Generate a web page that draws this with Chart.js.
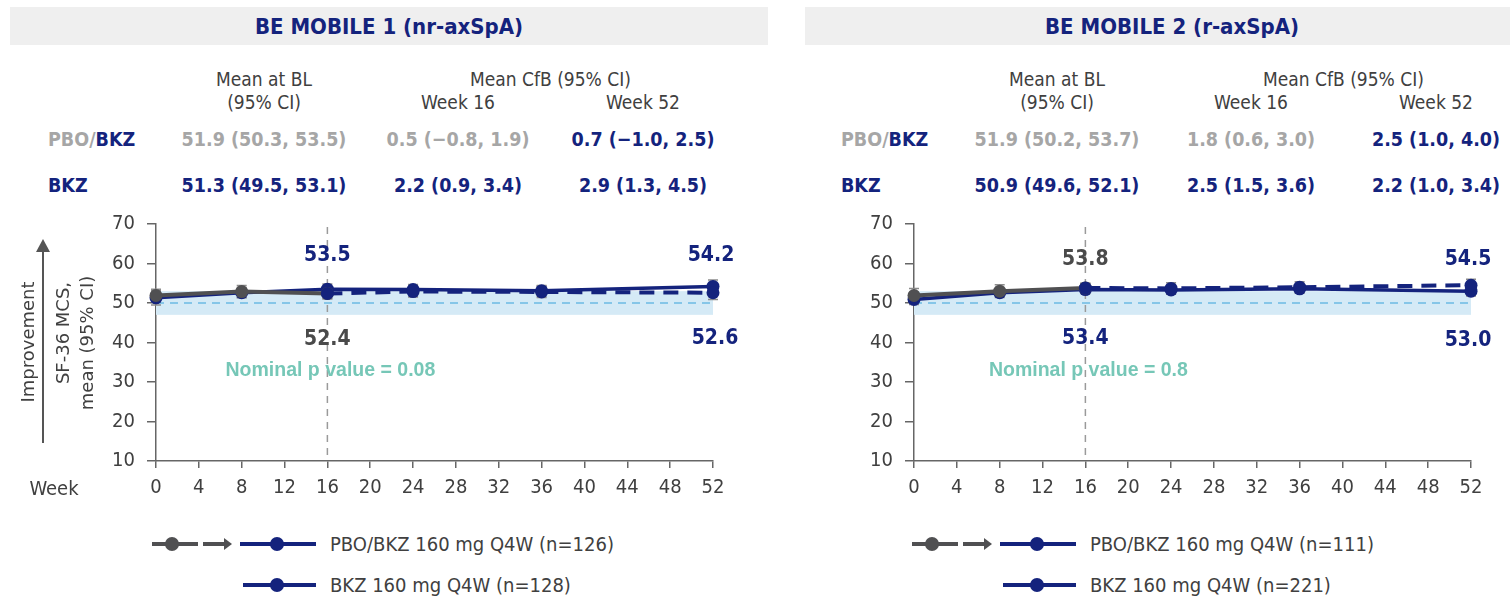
<!DOCTYPE html>
<html>
<head>
<meta charset="utf-8">
<script src="https://cdn.jsdelivr.net/npm/chart.js@4/dist/chart.umd.min.js"></script>
<style>
body { margin: 0; width: 1510px; height: 597px; background: #fff; position: relative; overflow: hidden;
       font-family: "DejaVu Sans Condensed", "DejaVu Sans", sans-serif; font-stretch: condensed; }
.abs { position: absolute; white-space: nowrap; }
.mid { transform: translate(-50%, -50%); }
.band { position: absolute; top: 7px; height: 38px; background: #efefef; }
.title { font-weight: bold; color: #14237d; font-size: 22px; }
.hd { color: #404040; font-size: 19px; }
.val { font-weight: bold; font-size: 19.5px; }
.grey { color: #a6a6a6; }
.navy { color: #14237d; }
.ytitle { color: #404040; font-size: 18px; font-family: "DejaVu Sans", sans-serif; font-stretch: normal;
          transform: translate(-50%, -50%) rotate(-90deg); }
.leg { color: #404040; font-size: 20px; transform: translateY(-50%); }
canvas { position: absolute; }
</style>
</head>
<body>
<canvas id="c1" width="760" height="310" style="left:0;top:200px"></canvas>
<canvas id="c2" width="760" height="310" style="left:758px;top:200px"></canvas>

<script>
const NAVY = "#14237d";
const GREY_LINE = "#505052";
const FONT = "'DejaVu Sans Condensed', 'DejaVu Sans', sans-serif";

// ---- data ----
const titles = ["BE MOBILE 1 (nr-axSpA)", "BE MOBILE 2 (r-axSpA)"];
const nPbo = [126, 111];
const nBkz = [128, 221];

// header table: BL mean (95% CI), CfB wk16, CfB wk52
const m1PboRow = ["51.9 (50.3, 53.5)", "0.5 (\u22120.8, 1.9)", "0.7 (\u22121.0, 2.5)"];
const m1BkzRow = ["51.3 (49.5, 53.1)", "2.2 (0.9, 3.4)", "2.9 (1.3, 4.5)"];
const m2PboRow = ["51.9 (50.2, 53.7)", "1.8 (0.6, 3.0)", "2.5 (1.0, 4.0)"];
const m2BkzRow = ["50.9 (49.6, 52.1)", "2.5 (1.5, 3.6)", "2.2 (1.0, 3.4)"];

// BE MOBILE 1
const m1PboWeeks = [0, 8, 16];
const m1PboMean = [51.9, 52.9, 52.4];
const m1PboLo = [50.3, 51.4, 51.1];
const m1PboHi = [53.5, 54.4, 53.8];
const m1SwWeeks = [16, 24, 36, 52];
const m1SwMean = [52.4, 52.9, 52.8, 52.6];
const m1SwLo = [51.1, 51.5, 51.4, 50.9];
const m1SwHi = [53.8, 54.3, 54.3, 54.4];
const m1BkzWeeks = [0, 8, 16, 24, 36, 52];
const m1BkzMean = [51.3, 52.6, 53.5, 53.4, 53.1, 54.2];
const m1BkzLo = [49.5, 51.3, 52.3, 52.1, 51.8, 52.6];
const m1BkzHi = [53.1, 53.9, 54.8, 54.7, 54.4, 55.8];

// BE MOBILE 2
const m2PboWeeks = [0, 8, 16];
const m2PboMean = [51.9, 53.0, 53.8];
const m2PboLo = [50.2, 51.4, 52.6];
const m2PboHi = [53.7, 54.6, 55.0];
const m2SwWeeks = [16, 24, 36, 52];
const m2SwMean = [53.8, 53.7, 54.0, 54.5];
const m2SwLo = [52.6, 52.2, 52.6, 53.0];
const m2SwHi = [55.0, 55.1, 55.4, 56.0];
const m2BkzWeeks = [0, 8, 16, 24, 36, 52];
const m2BkzMean = [50.9, 52.6, 53.4, 53.3, 53.6, 53.0];
const m2BkzLo = [49.6, 51.7, 52.4, 52.3, 52.6, 51.8];
const m2BkzHi = [52.1, 53.6, 54.5, 54.4, 54.6, 54.2];

const pValues = ["0.08", "0.8"];
const refBand = [47, 53];
const refLine = 50;

// ---- html text ----
function addText(html, x, y, cls) {
    const d = document.createElement("div");
    d.className = "abs " + cls;
    d.style.left = x + "px";
    d.style.top = y + "px";
    d.innerHTML = html;
    document.body.appendChild(d);
    return d;
}

function addBox(x, y, w, h, color, radius) {
    const d = document.createElement("div");
    d.className = "abs";
    d.style.left = x + "px";
    d.style.top = y + "px";
    d.style.width = w + "px";
    d.style.height = h + "px";
    d.style.background = color;
    if (radius) d.style.borderRadius = radius;
    document.body.appendChild(d);
    return d;
}

function header(dx, bandX, bandW, titleX, title, cols, pboRow, bkzRow) {
    const b = document.createElement("div");
    b.className = "band";
    b.style.left = bandX + "px";
    b.style.width = bandW + "px";
    document.body.appendChild(b);
    addText(title, titleX, 26, "mid title");

    addText("Mean at BL", cols[0], 79, "mid hd");
    addText("(95% CI)", cols[0], 102, "mid hd");
    addText("Mean CfB (95% CI)", (cols[1] + cols[2]) / 2, 79, "mid hd");
    addText("Week 16", cols[1], 102, "mid hd");
    addText("Week 52", cols[2], 102, "mid hd");

    addText('<span class="grey">PBO/</span><span class="navy">BKZ</span>', dx + 48, 139, "val").style.transform = "translateY(-50%)";
    addText('<span class="navy">BKZ</span>', dx + 48, 185, "val").style.transform = "translateY(-50%)";

    addText(pboRow[0], cols[0], 139, "mid val grey");
    addText(pboRow[1], cols[1], 139, "mid val grey");
    addText(pboRow[2], cols[2], 139, "mid val navy");
    bkzRow.forEach((t, i) => addText(t, cols[i], 185, "mid val navy"));
}

header(0, 10, 758, 389, titles[0], [264, 458, 643], m1PboRow, m1BkzRow);
header(793, 805, 705, 1172, titles[1], [1057, 1251, 1436], m2PboRow, m2BkzRow);

// y axis title + arrow
addText("Improvement", 27, 342, "ytitle");
addText("SF-36 MCS,", 62, 333, "ytitle");
addText("mean (95% CI)", 86, 343, "ytitle");
addBox(42, 250, 1.5, 193, "#555");
const ah = addBox(36, 239, 0, 0, "transparent");
ah.style.borderLeft = "7px solid transparent";
ah.style.borderRight = "7px solid transparent";
ah.style.borderBottom = "13px solid #555";
ah.style.background = "none";
addText("Week", 54, 488, "mid hd").style.fontSize = "20px";

// legend
function legend(dx, n1, n2) {
    const y1 = 544, y2 = 585;
    addBox(dx + 152, y1 - 2, 46, 4, GREY_LINE);
    addBox(dx + 165, y1 - 7, 14, 14, GREY_LINE, "50%");
    addBox(dx + 203, y1 - 2, 22, 4, GREY_LINE);
    const a = addBox(dx + 224, y1 - 6, 0, 0, "none");
    a.style.borderTop = "6px solid transparent";
    a.style.borderBottom = "6px solid transparent";
    a.style.borderLeft = "8px solid " + GREY_LINE;
    addBox(dx + 240, y1 - 2, 76, 4, NAVY);
    addBox(dx + 270, y1 - 7, 14, 14, NAVY, "50%");
    addText("PBO/BKZ 160 mg Q4W (n=" + n1 + ")", dx + 330, y1, "leg");

    addBox(dx + 243, y2 - 2, 73, 4, NAVY);
    addBox(dx + 270, y2 - 7, 14, 14, NAVY, "50%");
    addText("BKZ 160 mg Q4W (n=" + n2 + ")", dx + 330, y2, "leg");
}
legend(0, nPbo[0], nBkz[0]);
legend(760, nPbo[1], nBkz[1]);

// ---- chart ----
function pts(xs, ys) {
    return xs.map((x, i) => ({ x: x, y: ys[i] }));
}

const extrasPlugin = {
    id: "extras",
    beforeDatasetsDraw(chart, args, opts) {
        const ctx = chart.ctx;
        const xs = chart.scales.x, ys = chart.scales.y;
        const area = chart.chartArea;
        ctx.save();
        // reference band
        ctx.fillStyle = "#d5eaf6";
        const yTop = ys.getPixelForValue(refBand[1]);
        const yBot = ys.getPixelForValue(refBand[0]);
        ctx.fillRect(xs.getPixelForValue(0), yTop, xs.getPixelForValue(52) - xs.getPixelForValue(0), yBot - yTop);
        // ref line at 50
        ctx.strokeStyle = "#86c6e8";
        ctx.lineWidth = 2;
        ctx.setLineDash([8, 6]);
        ctx.beginPath();
        const yr = ys.getPixelForValue(refLine);
        ctx.moveTo(xs.getPixelForValue(0), yr);
        ctx.lineTo(xs.getPixelForValue(52), yr);
        ctx.stroke();
        // week 16 line
        ctx.strokeStyle = "#9a9a9a";
        ctx.lineWidth = 1.5;
        ctx.setLineDash([7, 6]);
        const xv = xs.getPixelForValue(16);
        ctx.beginPath();
        ctx.moveTo(xv, area.top + 3);
        ctx.lineTo(xv, area.bottom);
        ctx.stroke();
        ctx.setLineDash([]);
        // error bars
        ctx.strokeStyle = "#8c8c8c";
        ctx.lineWidth = 1.5;
        chart.data.datasets.forEach(ds => {
            ds.data.forEach((p, i) => {
                const x = xs.getPixelForValue(p.x);
                const lo = ys.getPixelForValue(ds.lo[i]);
                const hi = ys.getPixelForValue(ds.hi[i]);
                ctx.beginPath();
                ctx.moveTo(x, lo); ctx.lineTo(x, hi);
                ctx.moveTo(x - 5, lo); ctx.lineTo(x + 5, lo);
                ctx.moveTo(x - 5, hi); ctx.lineTo(x + 5, hi);
                ctx.stroke();
            });
        });
        ctx.restore();
    },
    afterDatasetsDraw(chart, args, opts) {
        const ctx = chart.ctx;
        const xs = chart.scales.x, ys = chart.scales.y;
        ctx.save();
        ctx.textAlign = "center";
        ctx.textBaseline = "middle";
        ctx.font = "bold 21px " + FONT;
        opts.labels.forEach(l => {
            ctx.fillStyle = l.color;
            ctx.fillText(l.text, xs.getPixelForValue(l.week) + (l.dx || 0), ys.getPixelForValue(l.at));
        });
        ctx.font = "bold 19.5px 'Liberation Sans', Arial, sans-serif";
        ctx.fillStyle = "#76c7b7";
        ctx.fillText("Nominal p value = " + opts.p, xs.getPixelForValue(16) + 3, ys.getPixelForValue(33));
        ctx.restore();
    }
};

function makeChart(id, pbo, sw, bkz, labels, p) {
    const datasets = [
        { data: pts(sw.w, sw.m), lo: sw.lo, hi: sw.hi, borderColor: NAVY, backgroundColor: NAVY,
          borderWidth: 4, borderDash: [15, 9], pointRadius: 6.5, pointBorderWidth: 0, order: 1 },
        { data: pts(pbo.w, pbo.m), lo: pbo.lo, hi: pbo.hi, borderColor: GREY_LINE, backgroundColor: GREY_LINE,
          borderWidth: 4, pointRadius: 6.5, pointBorderWidth: 0, order: 2 },
        { data: pts(bkz.w, bkz.m), lo: bkz.lo, hi: bkz.hi, borderColor: NAVY, backgroundColor: NAVY,
          borderWidth: 3.5, pointRadius: 6.5, pointBorderWidth: 0, order: 3 }
    ];
    const tickFont = { size: 20, family: FONT };
    return new Chart(document.getElementById(id), {
        type: "line",
        data: { datasets: datasets },
        options: {
            responsive: false,
            animation: false,
            clip: false,
            layout: { padding: { top: 21, right: 47, left: 0, bottom: 0 } },
            plugins: {
                legend: { display: false },
                tooltip: { enabled: false },
                extras: { labels: labels, p: p }
            },
            datasets: { line: { clip: false, tension: 0 } },
            scales: {
                x: {
                    type: "linear", min: 0, max: 52,
                    ticks: { stepSize: 4, color: "#404040", font: tickFont, padding: 8 },
                    grid: { drawOnChartArea: false, drawTicks: true, tickLength: 7, color: "#666", lineWidth: 1.5 },
                    border: { color: "#666", width: 1.5 },
                    afterFit: s => { s.height = 49; }
                },
                y: {
                    min: 10, max: 70,
                    ticks: { stepSize: 10, color: "#404040", font: tickFont, padding: 12 },
                    grid: { drawOnChartArea: false, drawTicks: true, tickLength: 9, color: "#666", lineWidth: 1.5 },
                    border: { color: "#666", width: 1.5 },
                    afterFit: s => { s.width = 156; }
                }
            }
        },
        plugins: [extrasPlugin]
    });
}

makeChart("c1",
    { w: m1PboWeeks, m: m1PboMean, lo: m1PboLo, hi: m1PboHi },
    { w: m1SwWeeks, m: m1SwMean, lo: m1SwLo, hi: m1SwHi },
    { w: m1BkzWeeks, m: m1BkzMean, lo: m1BkzLo, hi: m1BkzHi },
    [
        { text: "53.5", week: 16, at: 62, color: NAVY },
        { text: "52.4", week: 16, at: 40.8, color: "#4a4a4a" },
        { text: "54.2", week: 52, at: 62, color: NAVY, dx: -2 },
        { text: "52.6", week: 52, at: 41, color: NAVY, dx: 2 }
    ], pValues[0]);

makeChart("c2",
    { w: m2PboWeeks, m: m2PboMean, lo: m2PboLo, hi: m2PboHi },
    { w: m2SwWeeks, m: m2SwMean, lo: m2SwLo, hi: m2SwHi },
    { w: m2BkzWeeks, m: m2BkzMean, lo: m2BkzLo, hi: m2BkzHi },
    [
        { text: "53.8", week: 16, at: 61, color: "#4a4a4a" },
        { text: "53.4", week: 16, at: 41, color: NAVY },
        { text: "54.5", week: 52, at: 61, color: NAVY, dx: -3 },
        { text: "53.0", week: 52, at: 40.5, color: NAVY, dx: -3 }
    ], pValues[1]);
</script>
</body>
</html>
